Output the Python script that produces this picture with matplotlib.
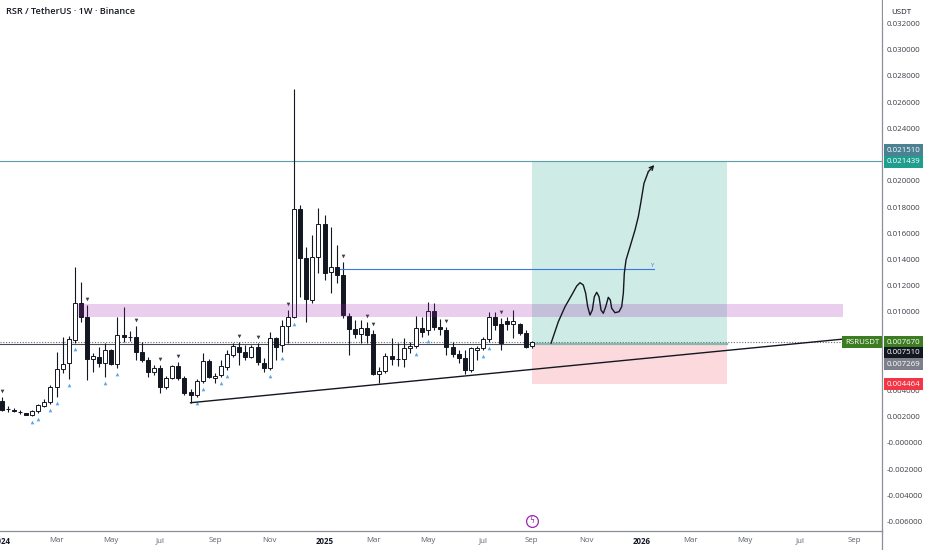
import matplotlib
matplotlib.use('Agg')
import matplotlib.pyplot as plt
import matplotlib.dates as mdates
from matplotlib.patches import Rectangle
from matplotlib.lines import Line2D
import numpy as np
import pandas as pd

plt.rcParams['font.family'] = ['Open Sans', 'DejaVu Sans']

# ---------------- data ----------------
title = "RSR / TetherUS · 1W · Binance"
first_week = "2024-01-01"

opens = [0.003214, 0.00255, 0.002504, 0.00236, 0.002275, 0.002145, 0.002405, 0.002809, 0.003115, 0.00426,
         0.005634, 0.006069, 0.007847, 0.010649, 0.009626, 0.006374, 0.006573, 0.006069, 0.007084, 0.005992,
         0.008206, 0.008099, 0.008053, 0.006931, 0.006321, 0.005427, 0.005687, 0.004282, 0.004924, 0.005863,
         0.004924, 0.003855, 0.003649, 0.00474, 0.006267, 0.004924, 0.005153, 0.005763, 0.006702, 0.007336,
         0.006954, 0.006573, 0.007336, 0.006115, 0.005687, 0.008023, 0.007466, 0.008916, 0.009626, 0.017824,
         0.014084, 0.010901, 0.014206, 0.016702, 0.013061, 0.013397, 0.012809, 0.009679, 0.008664, 0.008305,
         0.008786, 0.008282, 0.005252, 0.005504, 0.006626, 0.006382, 0.006397, 0.00726, 0.007389, 0.00874,
         0.008611, 0.010061, 0.008863, 0.008611, 0.007336, 0.006779, 0.00645, 0.005557, 0.007084, 0.007214,
         0.007901, 0.00958, 0.009046, 0.009321, 0.009046, 0.009046, 0.008405, 0.007389]
highs = [0.003496, 0.002809, 0.002656, 0.002504, 0.002313, 0.002504, 0.002962, 0.003344, 0.004389, 0.006954,
         0.008099, 0.008153, 0.013397, 0.012252, 0.0105, 0.006855, 0.007313, 0.007641, 0.007183, 0.00958,
         0.010389, 0.008534, 0.008916, 0.007718, 0.006573, 0.005939, 0.005939, 0.005099, 0.005939, 0.006191,
         0.005099, 0.004084, 0.004847, 0.006878, 0.006374, 0.005305, 0.006321, 0.007084, 0.007595, 0.007718,
         0.007466, 0.007466, 0.007641, 0.00645, 0.008481, 0.008099, 0.009374, 0.010137, 0.026985, 0.018153,
         0.014969, 0.015863, 0.017901, 0.017389, 0.016496, 0.015099, 0.013824, 0.009885, 0.009374, 0.009374,
         0.009221, 0.008611, 0.005809, 0.006832, 0.007977, 0.007595, 0.007977, 0.007718, 0.009679, 0.009626,
         0.010771, 0.010695, 0.009427, 0.008863, 0.007718, 0.007084, 0.007084, 0.007336, 0.007389, 0.008099,
         0.010008, 0.010008, 0.009504, 0.009626, 0.010137, 0.009168, 0.008611, 0.007794]
lows = [0.002427, 0.002351, 0.002351, 0.002198, 0.002122, 0.002046, 0.002275, 0.002733, 0.002962, 0.003519,
        0.005328, 0.00487, 0.007641, 0.009244, 0.004794, 0.005427, 0.005809, 0.005046, 0.005939, 0.005687,
        0.007718, 0.007794, 0.006321, 0.006191, 0.005046, 0.005176, 0.003779, 0.004084, 0.004847, 0.004794,
        0.003649, 0.003061, 0.003519, 0.004542, 0.004924, 0.004542, 0.005, 0.005557, 0.006573, 0.005939,
        0.006321, 0.00645, 0.005939, 0.005427, 0.005557, 0.006321, 0.006954, 0.007595, 0.009504, 0.011153,
        0.009244, 0.010649, 0.012939, 0.012427, 0.011412, 0.012176, 0.009527, 0.006702, 0.008, 0.007595,
        0.007618, 0.005176, 0.004542, 0.005351, 0.005939, 0.005863, 0.005763, 0.006832, 0.007214, 0.008099,
        0.008229, 0.008611, 0.008229, 0.006702, 0.006527, 0.006069, 0.005252, 0.005427, 0.006321, 0.007084,
        0.007718, 0.008611, 0.007084, 0.008611, 0.007977, 0.008229, 0.007214, 0.007214]
closes = [0.002504, 0.00256, 0.002427, 0.00235, 0.00216, 0.002405, 0.002863, 0.003137, 0.00426, 0.005634,
          0.006015, 0.007901, 0.010649, 0.009626, 0.006374, 0.006626, 0.006069, 0.007084, 0.005992, 0.008252,
          0.008099, 0.008115, 0.006954, 0.006321, 0.005427, 0.005687, 0.004282, 0.004924, 0.005863, 0.004924,
          0.003779, 0.003672, 0.00474, 0.006267, 0.005, 0.005122, 0.005863, 0.006779, 0.007389, 0.006954,
          0.006573, 0.007336, 0.006191, 0.005687, 0.008023, 0.00729, 0.008893, 0.009626, 0.017824, 0.014084,
          0.010954, 0.014206, 0.016702, 0.012985, 0.013397, 0.012809, 0.009756, 0.008664, 0.008305, 0.008786,
          0.008229, 0.005252, 0.005504, 0.006626, 0.006374, 0.006397, 0.00726, 0.007389, 0.00874, 0.008481,
          0.010061, 0.008863, 0.008664, 0.007336, 0.006779, 0.00645, 0.005557, 0.007214, 0.007214, 0.007901,
          0.00958, 0.008992, 0.007641, 0.009069, 0.009321, 0.008405, 0.007336, 0.00767]

up_signal_idx = [5, 6, 8, 9, 11, 12, 17, 19, 32, 33, 36, 37, 44, 46, 48, 68, 70, 79, 80]
down_signal_idx = [0, 14, 22, 26, 29, 39, 42, 47, 56, 60, 61, 73, 82]

# drawings
zone_start, zone_end = "2024-03-29", "2026-08-25"
zone_low, zone_high = 0.009634, 0.010626
trend_dates = ["2024-08-05", "2026-08-25"]
trend_prices = [0.00306, 0.00792]
target_level = 0.02151
entry_level = 0.00751
stop_level = 0.004464
last_price = 0.00767
position_start, position_end = "2025-09-01", "2026-04-13"
blue_level = 0.01324
blue_start, blue_end = "2025-01-24", "2026-01-19"

curve_start = "2025-09-01"
curve_weeks = [3.17, 4.37, 5.47, 6.57, 7.39, 7.93, 8.47, 8.86, 9.19, 9.57, 9.95, 10.28, 10.67, 11.05, 11.38,
               11.75, 12.15, 12.57, 12.90, 13.13, 13.67, 14.33, 14.77, 15.04, 15.20, 15.48, 16.14, 16.96,
               17.50, 17.89, 18.43, 19.14, 20.12]
curve_prices = [0.007595, 0.009244, 0.010389, 0.011282, 0.011969, 0.012221, 0.012046, 0.011412, 0.010389,
                0.009756, 0.010137, 0.011153, 0.011489, 0.011153, 0.010137, 0.009885, 0.010389, 0.011107,
                0.010901, 0.010267, 0.009931, 0.010008, 0.010389, 0.011412, 0.012939, 0.013954, 0.014969,
                0.016244, 0.01726, 0.018282, 0.019809, 0.020695, 0.021206]

y_ticks = [-0.006, -0.004, -0.002, 0.0, 0.002, 0.004, 0.006, 0.008, 0.010, 0.012, 0.014, 0.016, 0.018,
           0.020, 0.022, 0.024, 0.026, 0.028, 0.030, 0.032]
x_tick_dates = ["2024-01-01", "2024-03-04", "2024-05-06", "2024-07-01", "2024-09-02", "2024-11-04",
                "2025-01-06", "2025-03-03", "2025-05-05", "2025-07-07", "2025-09-01", "2025-11-03",
                "2026-01-05", "2026-03-02", "2026-05-04", "2026-07-06", "2026-09-07"]
x_tick_labels = ["2024", "Mar", "May", "Jul", "Sep", "Nov", "2025", "Mar", "May", "Jul", "Sep", "Nov",
                 "2026", "Mar", "May", "Jul", "Sep"]

price_tags = [  # (value, text, colour, pixel shift)
    (0.021510, "0.021510", "#4a8193", 11),
    (0.021439, "0.021439", "#1f9d8e", 0),
    (0.007670, "0.007670", "#3d7d22", 0),
    (0.007510, "0.007510", "#131722", -8.5),
    (0.007269, "0.007269", "#7d808a", -16.5),
    (0.004464, "0.004464", "#f23645", 0),
]

# ---------------- figure ----------------
W, H = 932, 550
fig = plt.figure(figsize=(W / 100, H / 100), dpi=100)
ax = fig.add_axes([0, 19 / H, 882 / W, 531 / H])

d = lambda s: mdates.date2num(pd.Timestamp(s))
dates = pd.date_range(first_week, periods=len(opens), freq='7D')
x = mdates.date2num(dates)
o = np.array(opens); h = np.array(highs); l = np.array(lows); c = np.array(closes)

ax.set_xlim(d(first_week) - 1.95, d(first_week) + 1011.5)
ax.set_ylim(-0.00673, 0.0338)

ink = '#131722'
# long position box
p0, p1 = d(position_start), d(position_end)
ax.add_patch(Rectangle((p0, entry_level), p1 - p0, target_level - entry_level,
                       fc='#cfebe5', ec='none', zorder=1))
ax.add_patch(Rectangle((p0, stop_level), p1 - p0, entry_level - stop_level,
                       fc='#fcd9dc', ec='none', zorder=1))
ax.plot([p0, p1], [entry_level, entry_level], color='#86b8ad', lw=1.6, zorder=1.5)

# horizontal levels
ax.axhline(target_level, color='#5aa0a6', lw=0.8, zorder=1.2)
ax.plot([ax.get_xlim()[0], p0], [entry_level, entry_level], color='#4a4d55', lw=0.8, zorder=1.2)
ax.axhline(last_price, color='#6a6d78', lw=0.8, ls=(0, (1, 1.5)), zorder=1.3)

# candles
ax.vlines(x, l, h, color=ink, lw=0.8, zorder=2)
body_lo = np.minimum(o, c)
body_h = np.maximum(np.abs(c - o), 1e-6)
colors = ['white' if cc >= oo else ink for oo, cc in zip(o, c)]
ax.bar(x, body_h, bottom=body_lo, width=4.6, color=colors, edgecolor=ink, linewidth=0.7, zorder=3)

# signal markers
px_per_price = 13100
off = 6.0 / px_per_price
ax.scatter(x[up_signal_idx], l[up_signal_idx] - off, marker='^', s=7,
           color='#5aa8ea', lw=0, zorder=4)
ax.scatter(x[down_signal_idx], h[down_signal_idx] + off, marker='v', s=7,
           color='#3a3d45', lw=0, zorder=4)

# trend line
ax.plot([d(s) for s in trend_dates], trend_prices, color=ink, lw=1.0, zorder=5)

# blue level
ax.plot([d(blue_start), d(blue_end)], [blue_level, blue_level], color='#3b78e7', lw=0.8, zorder=5)
ax.text(d(blue_end) - 2, blue_level + 0.00012, "Y", color='#3b78e7', fontsize=4.2,
        ha='center', va='bottom', zorder=5)

# supply zone (drawn over candles)
z0, z1 = d(zone_start), d(zone_end)
ax.add_patch(Rectangle((z0, zone_low), z1 - z0, zone_high - zone_low,
                       fc=(156 / 255, 39 / 255, 176 / 255, 0.22), ec='none', zorder=6))

# hand-drawn projection
cx = d(curve_start) + np.array(curve_weeks) * 7
ax.plot(cx[:-1], curve_prices[:-1], color=ink, lw=1.0, zorder=7, solid_joinstyle='round',
        solid_capstyle='round')
ax.annotate('', xy=(cx[-1], curve_prices[-1]), xytext=(cx[-2], curve_prices[-2]),
            arrowprops=dict(arrowstyle='->', color=ink, lw=1.0, shrinkA=0, shrinkB=0,
                            mutation_scale=7), zorder=7)

# event icon
tr = ax.get_xaxis_transform()
ax.plot([d(curve_start)], [0.019], transform=tr, marker='o', ms=8.5, mfc='white',
        mec='#9c27b0', mew=0.9, zorder=8, clip_on=False)
ax.text(d(curve_start), 0.019, "ϟ", transform=tr, color='#9c27b0', fontsize=5.5,
        ha='center', va='center', zorder=9, family='DejaVu Sans')

# axes styling
for s in ['top', 'left']:
    ax.spines[s].set_visible(False)
ax.spines['right'].set_color('#8c8f97')
ax.spines['bottom'].set_color('#8c8f97')
ax.spines['right'].set_linewidth(0.9)
ax.spines['bottom'].set_linewidth(0.9)

ax.yaxis.tick_right()
ax.set_yticks(y_ticks)
ax.set_yticklabels([('-0.000000' if abs(v) < 1e-12 else f'{v:.6f}') for v in y_ticks])
ax.tick_params(axis='y', length=0, pad=3.6, labelsize=5.7, labelcolor='#3b3e46')

ax.set_xticks([d(s) for s in x_tick_dates])
ax.set_xticklabels(x_tick_labels)
ax.tick_params(axis='x', length=0, pad=4.5, labelsize=5.7, labelcolor='#5d606b')
for lab in ax.get_xticklabels():
    if lab.get_text().isdigit():
        lab.set_fontweight('bold')
        lab.set_color(ink)

# price tags on the scale
for val, txt, col, dy in price_tags:
    ax.annotate(txt, xy=(1, val), xycoords=('axes fraction', 'data'), xytext=(4.5, dy),
                textcoords='offset pixels', ha='left', va='center', fontsize=5.7, color='white',
                bbox=dict(boxstyle='square,pad=0.32', fc=col, ec='none'),
                annotation_clip=False, zorder=20)
ax.annotate("RSRUSDT", xy=(1, last_price), xycoords=('axes fraction', 'data'), xytext=(-3, 0),
            textcoords='offset pixels', ha='right', va='center', fontsize=5.7, color='white',
            bbox=dict(boxstyle='square,pad=0.32', fc='#3d7d22', ec='none'),
            annotation_clip=False, zorder=20)

# scale header
fig.add_artist(Rectangle((883 / W, 1 - 20 / H), 49 / W, 20 / H, transform=fig.transFigure,
                         fc='white', ec='none', zorder=30))
fig.text(891 / W, 1 - 12 / H, "USDT", fontsize=5.7, color=ink, va='center', ha='left', zorder=31)
fig.add_artist(Line2D([882 / W, 882 / W], [0, 19 / H], transform=fig.transFigure,
                      color='#8c8f97', lw=0.9))

fig.text(6 / W, 1 - 12 / H, title, fontsize=6.6, fontweight='semibold', color=ink,
         va='center', ha='left')

fig.savefig('out.png', dpi=100)
